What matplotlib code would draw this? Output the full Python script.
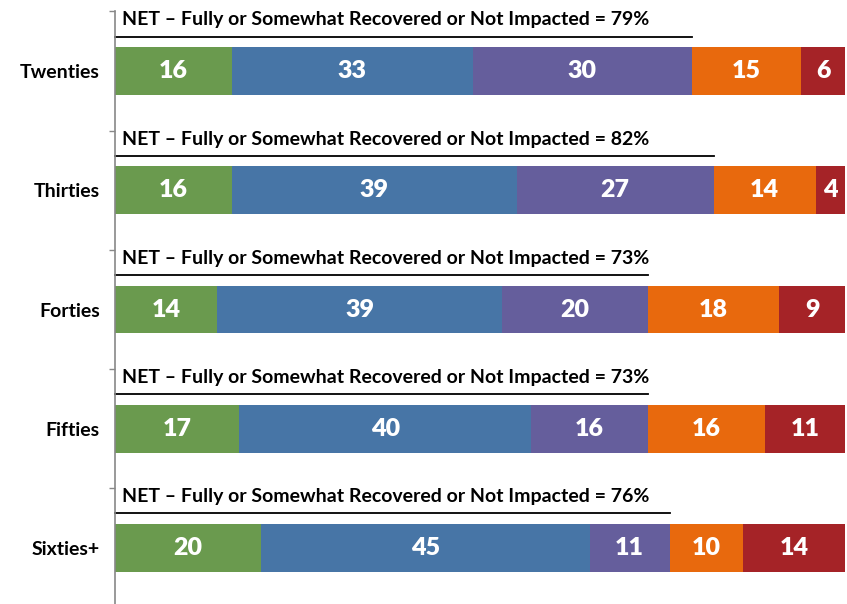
import matplotlib.pyplot as plt
import numpy as np

# data
categories = ['Twenties', 'Thirties', 'Forties', 'Fifties', 'Sixties+']
fully = [16, 16, 14, 17, 20]
somewhat = [33, 39, 39, 40, 45]
not_impacted = [30, 27, 20, 16, 11]
not_yet = [15, 14, 18, 16, 10]
never = [6, 4, 9, 11, 14]
net = [79, 82, 73, 73, 76]

colors = ['#6A9A4E', '#4775A6', '#655E9C', '#E8690D', '#A52327']

plt.rcParams['font.family'] = ['Lato', 'DejaVu Sans']

fig = plt.figure(figsize=(8.47, 6.04), dpi=100)
ax = fig.add_axes([115 / 847, -0.006, 730 / 847, 0.987])

series = [fully, somewhat, not_impacted, not_yet, never]
y = np.arange(len(categories))
left = np.zeros(len(categories))
for vals, col in zip(series, colors):
    vals = np.array(vals, dtype=float)
    bars = ax.barh(y, vals, left=left, height=0.4, color=col, edgecolor='none')
    for b, v in zip(bars, vals):
        ax.text(b.get_x() + b.get_width() / 2, b.get_y() + b.get_height() / 2,
                '%d' % v, ha='center', va='center', color='white',
                fontsize=18, fontweight='heavy')
    left += vals

# NET brackets
for i, n in enumerate(net):
    ax.plot([0, n], [i - 0.29, i - 0.29], color='black', lw=1.3, clip_on=False)
    ax.text(0.9, i - 0.43, 'NET \u2013 Fully or Somewhat Recovered or Not Impacted = %d%%' % n,
            ha='left', va='center', fontsize=14, fontweight='bold', color='black')

ax.set_xlim(0, 100)
ax.set_ylim(4.5, -0.5)
ax.set_yticks(y)
ax.set_yticklabels(categories, fontsize=14, fontweight='bold')
ax.set_yticks(np.arange(-0.5, 5.0, 1.0), minor=True)
ax.tick_params(axis='y', which='major', length=0, pad=11)
ax.tick_params(axis='y', which='minor', length=4, color='#888888', width=1)
ax.set_xticks([])
for s in ['top', 'right', 'bottom']:
    ax.spines[s].set_visible(False)
ax.spines['left'].set_color('#888888')
ax.spines['left'].set_linewidth(1.2)

fig.savefig('out.png', dpi=100)
